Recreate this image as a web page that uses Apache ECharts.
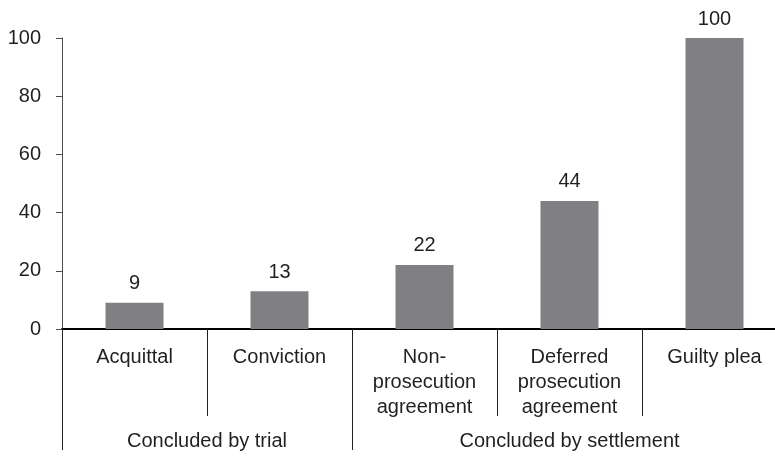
<!DOCTYPE html>
<html>
<head>
<meta charset="utf-8">
<script src="https://cdn.jsdelivr.net/npm/echarts@6/dist/echarts.min.js"></script>
<style>
  html, body { margin: 0; padding: 0; background: #fff; }
  #chart { width: 775px; height: 457px; }
</style>
</head>
<body>
<div id="chart"></div>
<script>
const categories = ['Acquittal', 'Conviction', 'Non-\nprosecution\nagreement', 'Deferred\nprosecution\nagreement', 'Guilty plea'];
const values = [9, 13, 22, 44, 100];
const groupLabels = { 1: 'Concluded by trial', 3.5: 'Concluded by settlement' };
const yTicks = { min: 0, max: 100, interval: 20 };

const textColor = '#231f20';
const fontFamily = '"Liberation Sans", Arial, sans-serif';

const chart = echarts.init(document.getElementById('chart'));

chart.setOption({
    animation: false,
    grid: {
        left: 62,
        top: 38,
        bottom: 128,
        width: 725,
        containLabel: false,
        outerBoundsMode: 'none'
    },
    xAxis: [
        {
            type: 'category',
            data: categories,
            axisLine: { show: true, lineStyle: { color: '#000', width: 2 } },
            axisTick: { show: true, length: 87, lineStyle: { color: textColor, width: 1 } },
            axisLabel: {
                color: textColor,
                fontFamily: fontFamily,
                fontSize: 20,
                lineHeight: 25,
                margin: 16,
                interval: 0
            }
        },
        {
            // taller separators between the two groups
            type: 'category',
            data: categories,
            position: 'bottom',
            axisLine: { show: false },
            axisLabel: { show: false },
            axisTick: {
                show: true,
                length: 121,
                interval: (i) => i === 0 || i === 2,
                lineStyle: { color: textColor, width: 1 }
            }
        },
        {
            // group labels
            type: 'value',
            min: 0,
            max: categories.length,
            interval: 0.5,
            position: 'bottom',
            axisLine: { show: false },
            axisTick: { show: false },
            splitLine: { show: false },
            axisLabel: {
                color: textColor,
                fontFamily: fontFamily,
                fontSize: 20,
                margin: 102,
                showMinLabel: true,
                showMaxLabel: true,
                formatter: (v) => groupLabels[v] || ''
            }
        }
    ],
    yAxis: {
        type: 'value',
        min: yTicks.min,
        max: yTicks.max,
        interval: yTicks.interval,
        axisLine: { show: true, lineStyle: { color: '#4d4d4d', width: 1 } },
        axisTick: { show: true, length: 6, lineStyle: { color: '#4d4d4d' } },
        splitLine: { show: false },
        axisLabel: {
            color: textColor,
            fontFamily: fontFamily,
            fontSize: 20,
            margin: 21
        }
    },
    series: [{
        type: 'bar',
        data: values,
        barWidth: 58,
        itemStyle: { color: '#808084' },
        label: {
            show: true,
            position: 'top',
            distance: 9,
            color: textColor,
            fontFamily: fontFamily,
            fontSize: 20
        }
    }]
});
</script>
</body>
</html>
